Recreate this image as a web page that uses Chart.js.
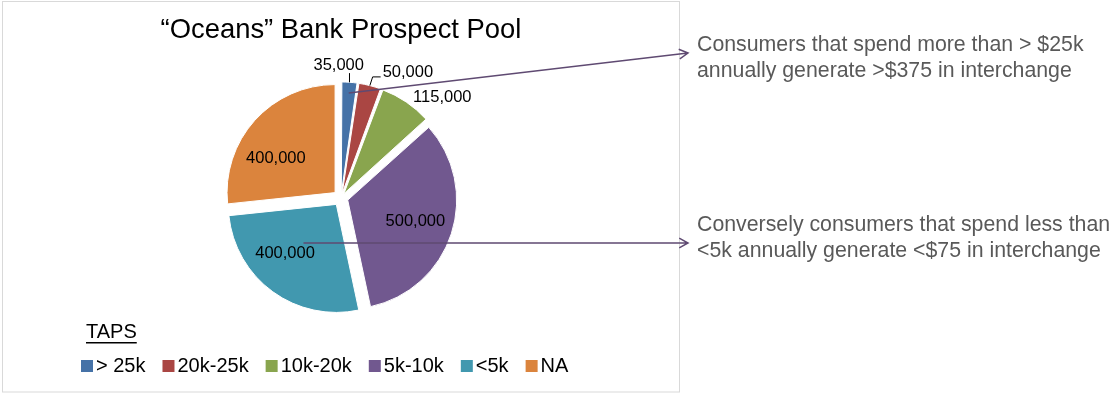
<!DOCTYPE html>
<html>
<head>
<meta charset="utf-8">
<script src="https://cdn.jsdelivr.net/npm/chart.js@4"></script>
<style>
  html, body { margin: 0; padding: 0; background: #fff; }
  canvas { display: block; }
</style>
</head>
<body>
<canvas id="chart_1" width="1110" height="394"></canvas>
<script>
// "Oceans" Bank Prospect Pool - TAPS split

var categories = ['> 25k', '20k-25k', '10k-20k', '5k-10k', '<5k', 'NA'];
var prospects = [35000, 50000, 115000, 500000, 400000, 400000];
var sliceColors = ['#4572a7', '#aa4643', '#89a54e', '#71588f', '#4198af', '#db843d'];

var noteTop = ['Consumers that spend more than > $25k', 'annually generate >$375 in interchange'];
var noteBottom = ['Conversely consumers that spend less than', '<5k annually generate <$75 in interchange'];

var FONT = '"Liberation Sans", Arial, sans-serif';
var GAP = 8; // how far each slice is pulled out, px

// label placement per slice: fraction of radius along the slice middle, then a nudge
var labelPlace = [
    { f: 1.15, dx: -12, dy: -1, leader: 'up' },
    { f: 1.15, dx: 34, dy: 3, leader: 'elbow' },
    { f: 1.15, dx: 27, dy: 9 },
    { f: 0.65, dx: 0, dy: -1 },
    { f: 0.65, dx: -10, dy: -8 },
    { f: 0.65, dx: -7, dy: 13 }
];

// chart.js moves an arc by offset/4 * (2 - sin(circumference)), so undo that to get GAP px
var total = prospects.reduce(function (a, b) { return a + b; }, 0);
var sliceOffsets = prospects.map(function (v) {
    var circ = v / total * Math.PI * 2;
    return 4 * GAP / (2 - Math.sin(Math.min(Math.PI, circ)));
});

function fmt(n) {
    return n.toString().replace(/\B(?=(\d{3})+(?!\d))/g, ',');
}

function slicePoint(el, off, f) {
    var a = (el.startAngle + el.endAngle) / 2;
    var circ = el.endAngle - el.startAngle;
    var disp = off / 4 * (2 - Math.sin(Math.min(Math.PI, circ)));
    var cx = el.x + Math.cos(a) * disp;
    var cy = el.y + Math.sin(a) * disp;
    return {
        x: cx + Math.cos(a) * el.outerRadius * f,
        y: cy + Math.sin(a) * el.outerRadius * f
    };
}

function arrow(ctx, x1, y1, x2, y2) {
    var ang = Math.atan2(y2 - y1, x2 - x1);
    ctx.beginPath();
    ctx.moveTo(x1, y1);
    ctx.lineTo(x2, y2);
    ctx.moveTo(x2 - 10 * Math.cos(ang - 0.5), y2 - 10 * Math.sin(ang - 0.5));
    ctx.lineTo(x2, y2);
    ctx.lineTo(x2 - 10 * Math.cos(ang + 0.5), y2 - 10 * Math.sin(ang + 0.5));
    ctx.stroke();
}

var extras = {
    id: 'extras',
    beforeDraw: function (chart) {
        var ctx = chart.ctx;
        ctx.save();
        ctx.strokeStyle = '#d9d9d9';
        ctx.lineWidth = 1;
        ctx.strokeRect(2.5, 1.5, 677, 390.5);
        ctx.restore();
    },
    afterDatasetsDraw: function (chart) {
        var ctx = chart.ctx;
        var arcs = chart.getDatasetMeta(0).data;
        ctx.save();

        // value labels
        ctx.font = '16.5px ' + FONT;
        ctx.fillStyle = '#000';
        ctx.textAlign = 'center';
        ctx.textBaseline = 'middle';
        arcs.forEach(function (el, i) {
            var lp = labelPlace[i];
            var p = slicePoint(el, sliceOffsets[i], lp.f);
            var lx = p.x + lp.dx, ly = p.y + lp.dy;
            var txt = fmt(prospects[i]);
            ctx.fillText(txt, lx, ly);
            if (lp.leader) {
                var edge = slicePoint(el, sliceOffsets[i], 1);
                var w = ctx.measureText(txt).width;
                ctx.strokeStyle = '#000';
                ctx.lineWidth = 1;
                ctx.beginPath();
                if (lp.leader === 'up') {
                    ctx.moveTo(edge.x, edge.y);
                    ctx.lineTo(edge.x, ly + 8);
                } else {
                    ctx.moveTo(edge.x, edge.y);
                    ctx.lineTo(lx - w / 2 - 10, ly + 4);
                    ctx.lineTo(lx - w / 2 - 2, ly + 4);
                }
                ctx.stroke();
            }
        });

        // callout arrows
        ctx.strokeStyle = '#5f4a72';
        ctx.lineWidth = 1.5;
        var s1 = slicePoint(arcs[0], sliceOffsets[0], 0.9);
        arrow(ctx, s1.x, s1.y, 688, 53);
        var s2 = slicePoint(arcs[4], sliceOffsets[4], 0.47);
        arrow(ctx, s2.x - 3, 243, 688, 243);

        // callout text
        ctx.font = '21.3px ' + FONT;
        ctx.fillStyle = '#595959';
        ctx.textAlign = 'left';
        noteTop.forEach(function (t, k) { ctx.fillText(t, 697, 45.5 + k * 26); });
        noteBottom.forEach(function (t, k) { ctx.fillText(t, 697, 225.5 + k * 26); });

        // legend
        ctx.font = '20px ' + FONT;
        ctx.fillStyle = '#000';
        ctx.fillText('TAPS', 86, 332);
        var tw = ctx.measureText('TAPS').width;
        ctx.fillRect(86, 342, tw, 1.5);
        var x = 81;
        categories.forEach(function (c, i) {
            ctx.fillStyle = sliceColors[i];
            ctx.fillRect(x, 360, 12, 12);
            ctx.fillStyle = '#000';
            ctx.fillText(c, x + 15, 366);
            x += 15 + ctx.measureText(c).width + 17;
        });
        ctx.restore();
    }
};

var ctx = document.getElementById('chart_1').getContext('2d');
var prospectChart = new Chart(ctx, {
    type: 'pie',
    data: {
        labels: categories,
        datasets: [{
            data: prospects,
            backgroundColor: sliceColors,
            borderColor: '#ffffff',
            borderWidth: 1,
            offset: sliceOffsets,
            clip: false
        }]
    },
    options: {
        responsive: false,
        animation: false,
        devicePixelRatio: 1,
        radius: 108,
        layout: {
            padding: { left: 102, right: 530, top: 5, bottom: 45 }
        },
        plugins: {
            legend: { display: false },
            tooltip: { enabled: false },
            title: {
                display: true,
                text: '\u201COceans\u201D Bank Prospect Pool',
                color: '#000',
                font: { family: FONT, size: 27.4, weight: 'normal' },
                padding: { top: 9, bottom: 0 }
            }
        }
    },
    plugins: [extras]
});
</script>
</body>
</html>
